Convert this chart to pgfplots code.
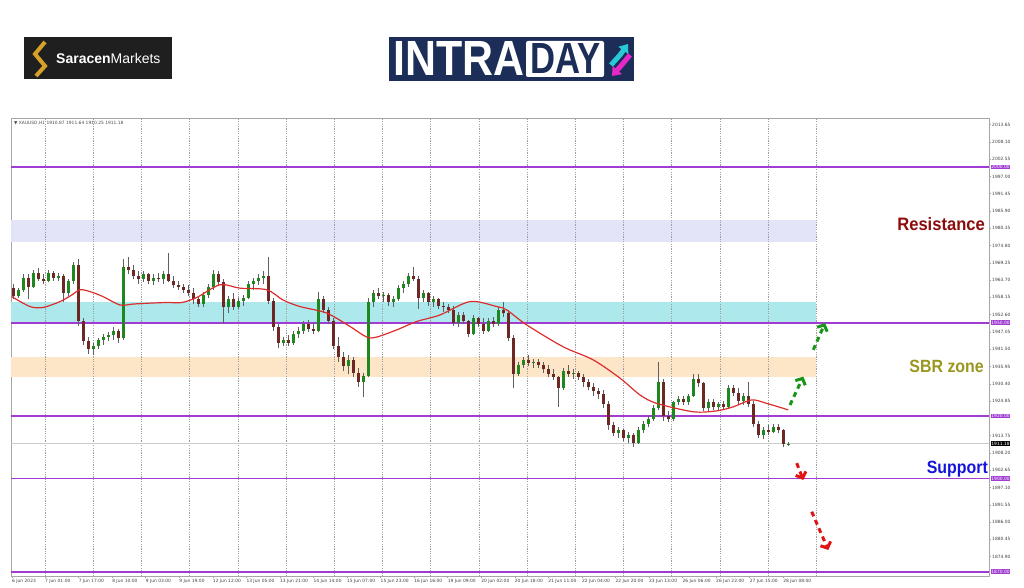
\documentclass[border=0pt]{standalone}
\usepackage{pgfplots}
\pgfplotsset{compat=1.18}
\usepackage{pgfplotstable}
\usepackage{graphicx}
\usepackage{fontspec}
\setmainfont{DejaVu Sans}
\newfontfamily\lib{Liberation Sans}
\usetikzlibrary{arrows.meta}

\definecolor{purp}{RGB}{160,60,210}
\definecolor{upc}{RGB}{30,135,30}
\definecolor{dnc}{RGB}{110,40,35}
\definecolor{wick}{RGB}{95,95,95}
\definecolor{maline}{RGB}{220,45,45}
\definecolor{zres}{RGB}{228,228,248}
\definecolor{zcyan}{RGB}{172,232,236}
\definecolor{zsbr}{RGB}{253,230,200}
\definecolor{resred}{RGB}{140,12,12}
\definecolor{sbrol}{RGB}{155,150,30}
\definecolor{supblue}{RGB}{20,20,220}
\definecolor{arrgreen}{RGB}{25,150,25}
\definecolor{arrred}{RGB}{225,20,20}
\definecolor{navy}{RGB}{28,45,88}
\definecolor{gold}{RGB}{215,160,40}
\definecolor{logocyan}{RGB}{40,200,215}
\definecolor{logomag}{RGB}{230,40,200}

% XAUUSD candles, x = horizontal position on the chart
\pgfplotstableread{
x o h l c
13 1961.0 1962.5 1957.5 1958.5
18 1958.5 1961.0 1957.8 1960.5
23 1960.5 1965.5 1960.0 1964.5
28 1964.5 1965.8 1957.5 1961.5
33 1961.5 1967.0 1961.0 1966.0
38 1966.0 1967.5 1963.5 1964.0
43 1964.0 1965.5 1962.5 1963.5
48 1963.5 1966.8 1963.0 1966.0
53 1966.0 1966.5 1963.5 1964.5
58 1964.5 1966.0 1963.5 1965.0
63 1965.0 1965.5 1956.5 1959.5
68 1959.5 1964.0 1958.5 1963.5
73 1963.5 1969.5 1962.5 1968.5
78 1968.5 1970.5 1949.0 1950.5
83 1950.5 1951.5 1943.0 1944.0
88 1944.0 1945.5 1940.0 1941.5
93 1941.5 1943.5 1939.5 1942.5
98 1942.5 1945.0 1941.5 1944.5
103 1944.5 1946.5 1943.0 1945.5
108 1945.5 1947.0 1944.0 1946.0
113 1946.0 1948.5 1944.5 1947.5
118 1947.5 1948.0 1943.5 1945.0
123 1945.0 1970.5 1944.5 1968.0
128 1968.0 1971.0 1965.5 1967.0
133 1967.0 1968.5 1964.0 1965.0
138 1965.0 1966.5 1962.5 1964.0
143 1964.0 1966.5 1963.0 1965.5
148 1965.5 1966.0 1962.5 1963.5
153 1963.5 1965.5 1962.0 1964.5
158 1964.5 1966.0 1963.0 1964.0
163 1964.0 1966.5 1962.5 1965.5
168 1965.5 1972.5 1963.0 1963.5
173 1963.5 1965.0 1961.0 1962.0
178 1962.0 1963.5 1960.5 1961.5
183 1961.5 1962.5 1959.5 1960.5
188 1960.5 1962.0 1958.5 1959.5
193 1959.5 1961.0 1956.0 1957.5
198 1957.5 1958.5 1955.0 1956.0
203 1956.0 1960.0 1955.0 1959.0
208 1959.0 1962.5 1958.0 1961.5
213 1961.5 1967.0 1960.5 1965.5
218 1965.5 1966.5 1962.0 1963.0
223 1963.0 1964.0 1949.5 1955.0
228 1955.0 1958.5 1953.0 1957.5
233 1957.5 1959.5 1954.0 1955.0
238 1955.0 1958.0 1954.5 1957.0
243 1957.0 1959.0 1955.5 1958.0
248 1958.0 1963.5 1957.5 1962.5
253 1962.5 1964.5 1960.5 1963.5
258 1963.5 1965.5 1962.0 1964.5
263 1964.5 1966.5 1962.5 1965.0
268 1965.0 1971.0 1956.0 1957.0
273 1957.0 1958.0 1947.5 1948.5
278 1948.5 1949.5 1942.0 1943.5
283 1943.5 1945.5 1942.5 1944.5
288 1944.5 1946.0 1942.5 1943.5
293 1943.5 1947.5 1943.0 1946.5
298 1946.5 1948.5 1945.0 1947.5
303 1947.5 1950.5 1946.5 1949.5
308 1949.5 1951.0 1947.0 1948.0
313 1948.0 1950.0 1946.5 1947.5
318 1947.5 1960.0 1947.0 1957.5
323 1957.5 1958.5 1953.0 1954.0
328 1954.0 1955.0 1949.5 1950.5
333 1950.5 1951.5 1941.5 1942.5
338 1942.5 1945.5 1937.5 1939.0
343 1939.0 1940.5 1934.5 1936.0
348 1936.0 1939.5 1933.5 1938.0
353 1938.0 1939.0 1932.5 1934.0
358 1934.0 1935.5 1929.5 1931.0
363 1931.0 1934.0 1926.0 1933.0
368 1933.0 1958.0 1932.5 1956.5
373 1956.5 1960.5 1955.0 1959.5
378 1959.5 1961.0 1957.5 1958.5
383 1958.5 1960.0 1956.5 1959.0
388 1959.0 1959.5 1955.5 1956.5
393 1956.5 1958.5 1955.0 1957.5
398 1957.5 1962.0 1957.0 1961.0
403 1961.0 1963.5 1959.5 1962.5
408 1962.5 1966.0 1961.5 1965.0
413 1965.0 1968.0 1963.5 1964.0
418 1964.0 1965.0 1954.5 1958.0
423 1958.0 1960.5 1956.5 1959.5
428 1959.5 1960.0 1955.5 1956.5
433 1956.5 1958.5 1955.0 1957.5
438 1957.5 1958.0 1954.5 1955.5
443 1955.5 1956.5 1953.5 1955.0
448 1955.0 1956.0 1953.0 1954.0
453 1954.0 1955.5 1949.0 1950.0
458 1950.0 1953.5 1948.5 1952.5
463 1952.5 1953.5 1949.5 1950.5
468 1950.5 1951.0 1945.5 1946.5
473 1946.5 1952.5 1946.0 1951.5
478 1951.5 1952.0 1948.5 1949.5
483 1949.5 1951.5 1946.5 1947.5
488 1947.5 1951.5 1947.0 1950.5
493 1950.5 1952.0 1948.5 1949.5
498 1949.5 1955.0 1949.0 1954.0
503 1954.0 1956.5 1952.0 1953.0
508 1953.0 1954.0 1944.0 1945.0
513 1945.0 1946.0 1929.0 1933.5
518 1933.5 1937.5 1933.0 1936.5
523 1936.5 1939.0 1935.5 1938.0
528 1938.0 1939.5 1936.0 1937.0
533 1937.0 1938.5 1935.5 1937.5
538 1937.5 1938.5 1935.5 1936.5
543 1936.5 1937.5 1934.0 1935.0
548 1935.0 1936.5 1932.5 1933.5
553 1933.5 1935.0 1931.5 1932.5
558 1932.5 1933.0 1923.0 1929.0
563 1929.0 1935.5 1928.5 1934.5
568 1934.5 1936.5 1932.5 1933.5
573 1933.5 1935.0 1932.0 1934.0
578 1934.0 1934.5 1931.5 1932.5
583 1932.5 1933.5 1929.5 1931.0
588 1931.0 1932.0 1928.5 1929.5
593 1929.5 1930.5 1926.5 1928.0
598 1928.0 1929.0 1925.5 1927.0
603 1927.0 1928.5 1922.5 1924.0
608 1924.0 1925.0 1915.5 1917.0
613 1917.0 1918.0 1913.5 1914.5
618 1914.5 1916.5 1913.0 1915.5
623 1915.5 1916.0 1912.0 1913.0
628 1913.0 1915.0 1911.5 1914.0
633 1914.0 1914.5 1910.2 1911.5
638 1911.5 1916.5 1911.0 1915.5
643 1915.5 1918.5 1914.5 1917.5
648 1917.5 1920.0 1916.5 1919.0
653 1919.0 1923.5 1918.5 1922.5
658 1922.5 1937.3 1922.0 1931.0
663 1931.0 1932.0 1918.5 1920.0
668 1920.0 1921.5 1918.0 1919.0
673 1919.0 1925.0 1918.5 1924.5
678 1924.5 1926.5 1923.5 1925.5
683 1925.5 1926.5 1923.5 1924.5
688 1924.5 1927.0 1923.5 1926.5
693 1926.5 1933.5 1926.0 1932.0
698 1932.0 1933.5 1929.5 1930.5
703 1930.5 1931.0 1921.5 1922.5
708 1922.5 1925.5 1921.5 1924.5
713 1924.5 1925.5 1922.0 1923.0
718 1923.0 1924.5 1921.5 1924.0
723 1924.0 1925.0 1922.0 1923.0
728 1923.0 1930.0 1922.5 1929.0
733 1929.0 1930.0 1926.5 1927.5
738 1927.5 1929.0 1924.0 1925.0
743 1925.0 1927.5 1923.5 1926.5
748 1926.5 1931.0 1923.0 1924.0
753 1924.0 1925.0 1916.5 1917.5
758 1917.5 1918.5 1913.0 1914.0
763 1914.0 1916.5 1912.5 1915.5
768 1915.5 1917.0 1914.0 1915.0
773 1915.0 1917.5 1914.5 1916.5
778 1916.5 1917.5 1914.5 1915.5
783 1915.5 1916.0 1910.0 1910.9
788 1910.87 1911.64 1910.25 1911.18
}\candles

\begin{document}
\begin{tikzpicture}[x=1pt,y=1pt]
\useasboundingbox (0,0) rectangle (1024,587);
% Saracen Markets logo
\fill[black!88] (24,508) rectangle (172,550);
\draw[gold, line width=4pt, line join=miter] (45,545) -- (35,533) -- (45,521) -- (36,511);
\node[anchor=west, text=white, font=\lib\fontsize{14}{14}\selectfont, inner sep=0pt] at (56,529) {\textbf{Saracen}Markets};
% INTRADAY logo
\fill[navy] (389,506) rectangle (634,550);
\node[anchor=south west, inner sep=0pt, text=white] at (393,511) {\resizebox{131pt}{34pt}{\lib\bfseries INTRA}};
\fill[white, rounded corners=2pt] (526,510) rectangle (604,546);
\node[anchor=south west, inner sep=0pt, text=navy] at (530,513) {\resizebox{70pt}{30pt}{\lib\bfseries DAY}};
\draw[logocyan, line width=5pt, -{Triangle[length=8pt,width=12pt]}] (611,522) -- (620,532) -- (628,543);
\draw[logomag, line width=5pt, -{Triangle[length=8pt,width=12pt]}] (630,532) -- (620,520) -- (612,511);

\begin{axis}[
  at={(11pt,11pt)}, anchor=south west,
  scale only axis, width=978pt, height=457.5pt,
  xmin=11, xmax=989, ymin=1868.65, ymax=2015.6,
  clip=false,
  axis line style={gray!70, line width=0.6pt},
  tick align=outside, major tick length=2pt,
  tick style={gray!70, line width=0.4pt},
  xtick pos=left, ytick pos=right, yticklabel pos=right,
  xtick={12,45,78.55,112.1,145.65,179.2,212.75,246.3,279.85,313.4,346.95,380.5,414.05,447.6,481.15,514.7,548.25,581.8,615.35,648.9,682.45,716,749.55,783.1},
  xticklabels={6 Jun 2023,7 Jun 01:00,7 Jun 17:00,8 Jun 10:00,9 Jun 03:00,9 Jun 19:00,12 Jun 12:00,13 Jun 05:00,13 Jun 21:00,14 Jun 14:00,15 Jun 07:00,15 Jun 23:00,16 Jun 16:00,19 Jun 09:00,20 Jun 02:00,20 Jun 18:00,21 Jun 11:00,22 Jun 04:00,22 Jun 20:00,23 Jun 13:00,26 Jun 06:00,26 Jun 22:00,27 Jun 15:00,28 Jun 08:00},
  ytick={1874.90,1880.45,1886.00,1891.55,1897.10,1902.65,1908.20,1913.75,1924.85,1930.40,1935.95,1941.50,1947.05,1952.60,1958.15,1963.70,1969.25,1974.80,1980.35,1985.90,1991.45,1997.00,2002.55,2008.10,2013.65},
  scaled y ticks=false,
  yticklabel style={/pgf/number format/fixed, /pgf/number format/fixed zerofill,
    /pgf/number format/precision=2, /pgf/number format/1000 sep={},
    /pgf/number format/assume math mode=true, anchor=west, inner xsep=1pt},
  xticklabel style={anchor=north west, inner xsep=0pt, inner ysep=1pt},
  ticklabel style={font=\fontsize{4.4}{5}\selectfont, text=black!75},
]
% zones
\fill[zres] (axis cs:11,1976.0) rectangle (axis cs:816,1983.1);
\fill[zcyan] (axis cs:11,1950.3) rectangle (axis cs:816,1956.8);
\fill[zsbr] (axis cs:11,1932.7) rectangle (axis cs:816,1939.0);
% day separators
\pgfplotsinvokeforeach{45,93.2,141.4,189.6,237.8,286,334.2,382.4,430.6,478.8,527,575.2,623.4,671.6,719.8,768,816.2}{
  \draw[gray!75, line width=0.4pt, dash pattern=on 1.2pt off 1.2pt] (axis cs:#1,1868.65) -- (axis cs:#1,2015.6);}
% current price line
\draw[black!20, line width=0.5pt] (axis cs:11,1911.18) -- (axis cs:989,1911.18);
% levels
\pgfplotsinvokeforeach{2000,1950,1920,1900,1870}{
  \draw[purp, line width=1.6pt] (axis cs:11,#1) -- (axis cs:989,#1);}

% wicks
\addplot[draw=none, mark=none, forget plot, error bars/.cd, y dir=plus, y explicit,
  error mark=none, error bar style={draw=wick, line width=0.7pt}]
  table[x=x, y=l, y error expr=\thisrow{h}-\thisrow{l}] {\candles};
% bullish bodies
\addplot[draw=none, mark=none, forget plot, error bars/.cd, y dir=plus, y explicit,
  error mark=none, error bar style={draw=upc, line width=3pt}]
  table[x=x, y=o, y error expr={max(\thisrow{c}-\thisrow{o},0)}] {\candles};
% bearish bodies
\addplot[draw=none, mark=none, forget plot, error bars/.cd, y dir=plus, y explicit,
  error mark=none, error bar style={draw=dnc, line width=3pt}]
  table[x=x, y=c, y error expr={max(\thisrow{o}-\thisrow{c},0)}] {\candles};

% moving average
\addplot[maline, line width=1.2pt, smooth, mark=none] coordinates {
(11.7,1958.4) (30,1955.2) (43,1954.9) (60,1956.8) (71.7,1958.9) (80,1960.6)
(90,1960.0) (103,1958.4) (120,1955.7) (133,1956.0) (150,1956.3) (166.7,1956.5)
(181.7,1956.5) (196.7,1958.1) (220,1962.2) (240,1961.1) (266.7,1960.6) (283,1957.3)
(300,1955.2) (326.7,1953.1) (350,1948.8) (366.7,1945.4) (376.7,1945.4) (396.7,1947.7)
(416.7,1950.4) (440,1952.5) (470,1956.8) (496.7,1955.2) (506.7,1954.1) (526.7,1949.3)
(563,1942.3) (593,1938.1) (620,1932.2) (640,1926.8) (656.7,1924.1) (693.3,1921.4)
(716.7,1921.7) (733.3,1923.0) (751.7,1925.2) (766.7,1924.1) (788.3,1922.0)};

% right-hand price boxes
\pgfplotsinvokeforeach{2000.00,1950.00,1920.00,1900.00,1870.00}{
  \node[fill=purp, text=white, anchor=west, inner sep=0.7pt, font=\fontsize{4.4}{5}\selectfont] at (axis cs:990.5,#1) {#1};}
\node[fill=black, text=white, anchor=west, inner sep=0.7pt, font=\fontsize{4.4}{5}\selectfont] at (axis cs:990.5,1911.18) {1911.18};

% header
\node[anchor=west, inner sep=0pt, text=black!70, font=\fontsize{4.4}{5}\selectfont] at (axis cs:14,2014.2) {▼ XAUUSD,H1  1910.87 1911.64 1910.25 1911.18};

% annotations
\node[anchor=base east, inner sep=0pt, text=resred] at (axis cs:985,1979.5) {\scalebox{0.92}[1]{\lib\bfseries\fontsize{18}{18}\selectfont Resistance}};
\node[anchor=base east, inner sep=0pt, text=sbrol] at (axis cs:984,1934.0) {\scalebox{0.9}[1]{\lib\bfseries\fontsize{17.7}{18}\selectfont SBR zone}};
\node[anchor=base east, inner sep=0pt, text=supblue] at (axis cs:988,1901.6) {\scalebox{0.9}[1]{\lib\bfseries\fontsize{17.7}{18}\selectfont Support}};

% scenario arrows
\draw[arrgreen, line width=3pt, dash pattern=on 5pt off 4pt, -{Straight Barb[length=5pt,width=11pt]}] (axis cs:790,1923.6) -- (axis cs:803.3,1932.7);
\draw[arrgreen, line width=3pt, dash pattern=on 5pt off 4pt, -{Straight Barb[length=5pt,width=11pt]}] (axis cs:813.3,1941.3) -- (axis cs:825,1949.9);
\draw[arrred, line width=3pt, dash pattern=on 5pt off 4pt, -{Straight Barb[length=5pt,width=11pt]}] (axis cs:796.7,1904.9) -- (axis cs:803.3,1899.5);
\draw[arrred, line width=3pt, dash pattern=on 5pt off 4pt, -{Straight Barb[length=5pt,width=11pt]}] (axis cs:811.7,1889.3) -- (axis cs:828.3,1877.0);
\end{axis}
\end{tikzpicture}
\end{document}
